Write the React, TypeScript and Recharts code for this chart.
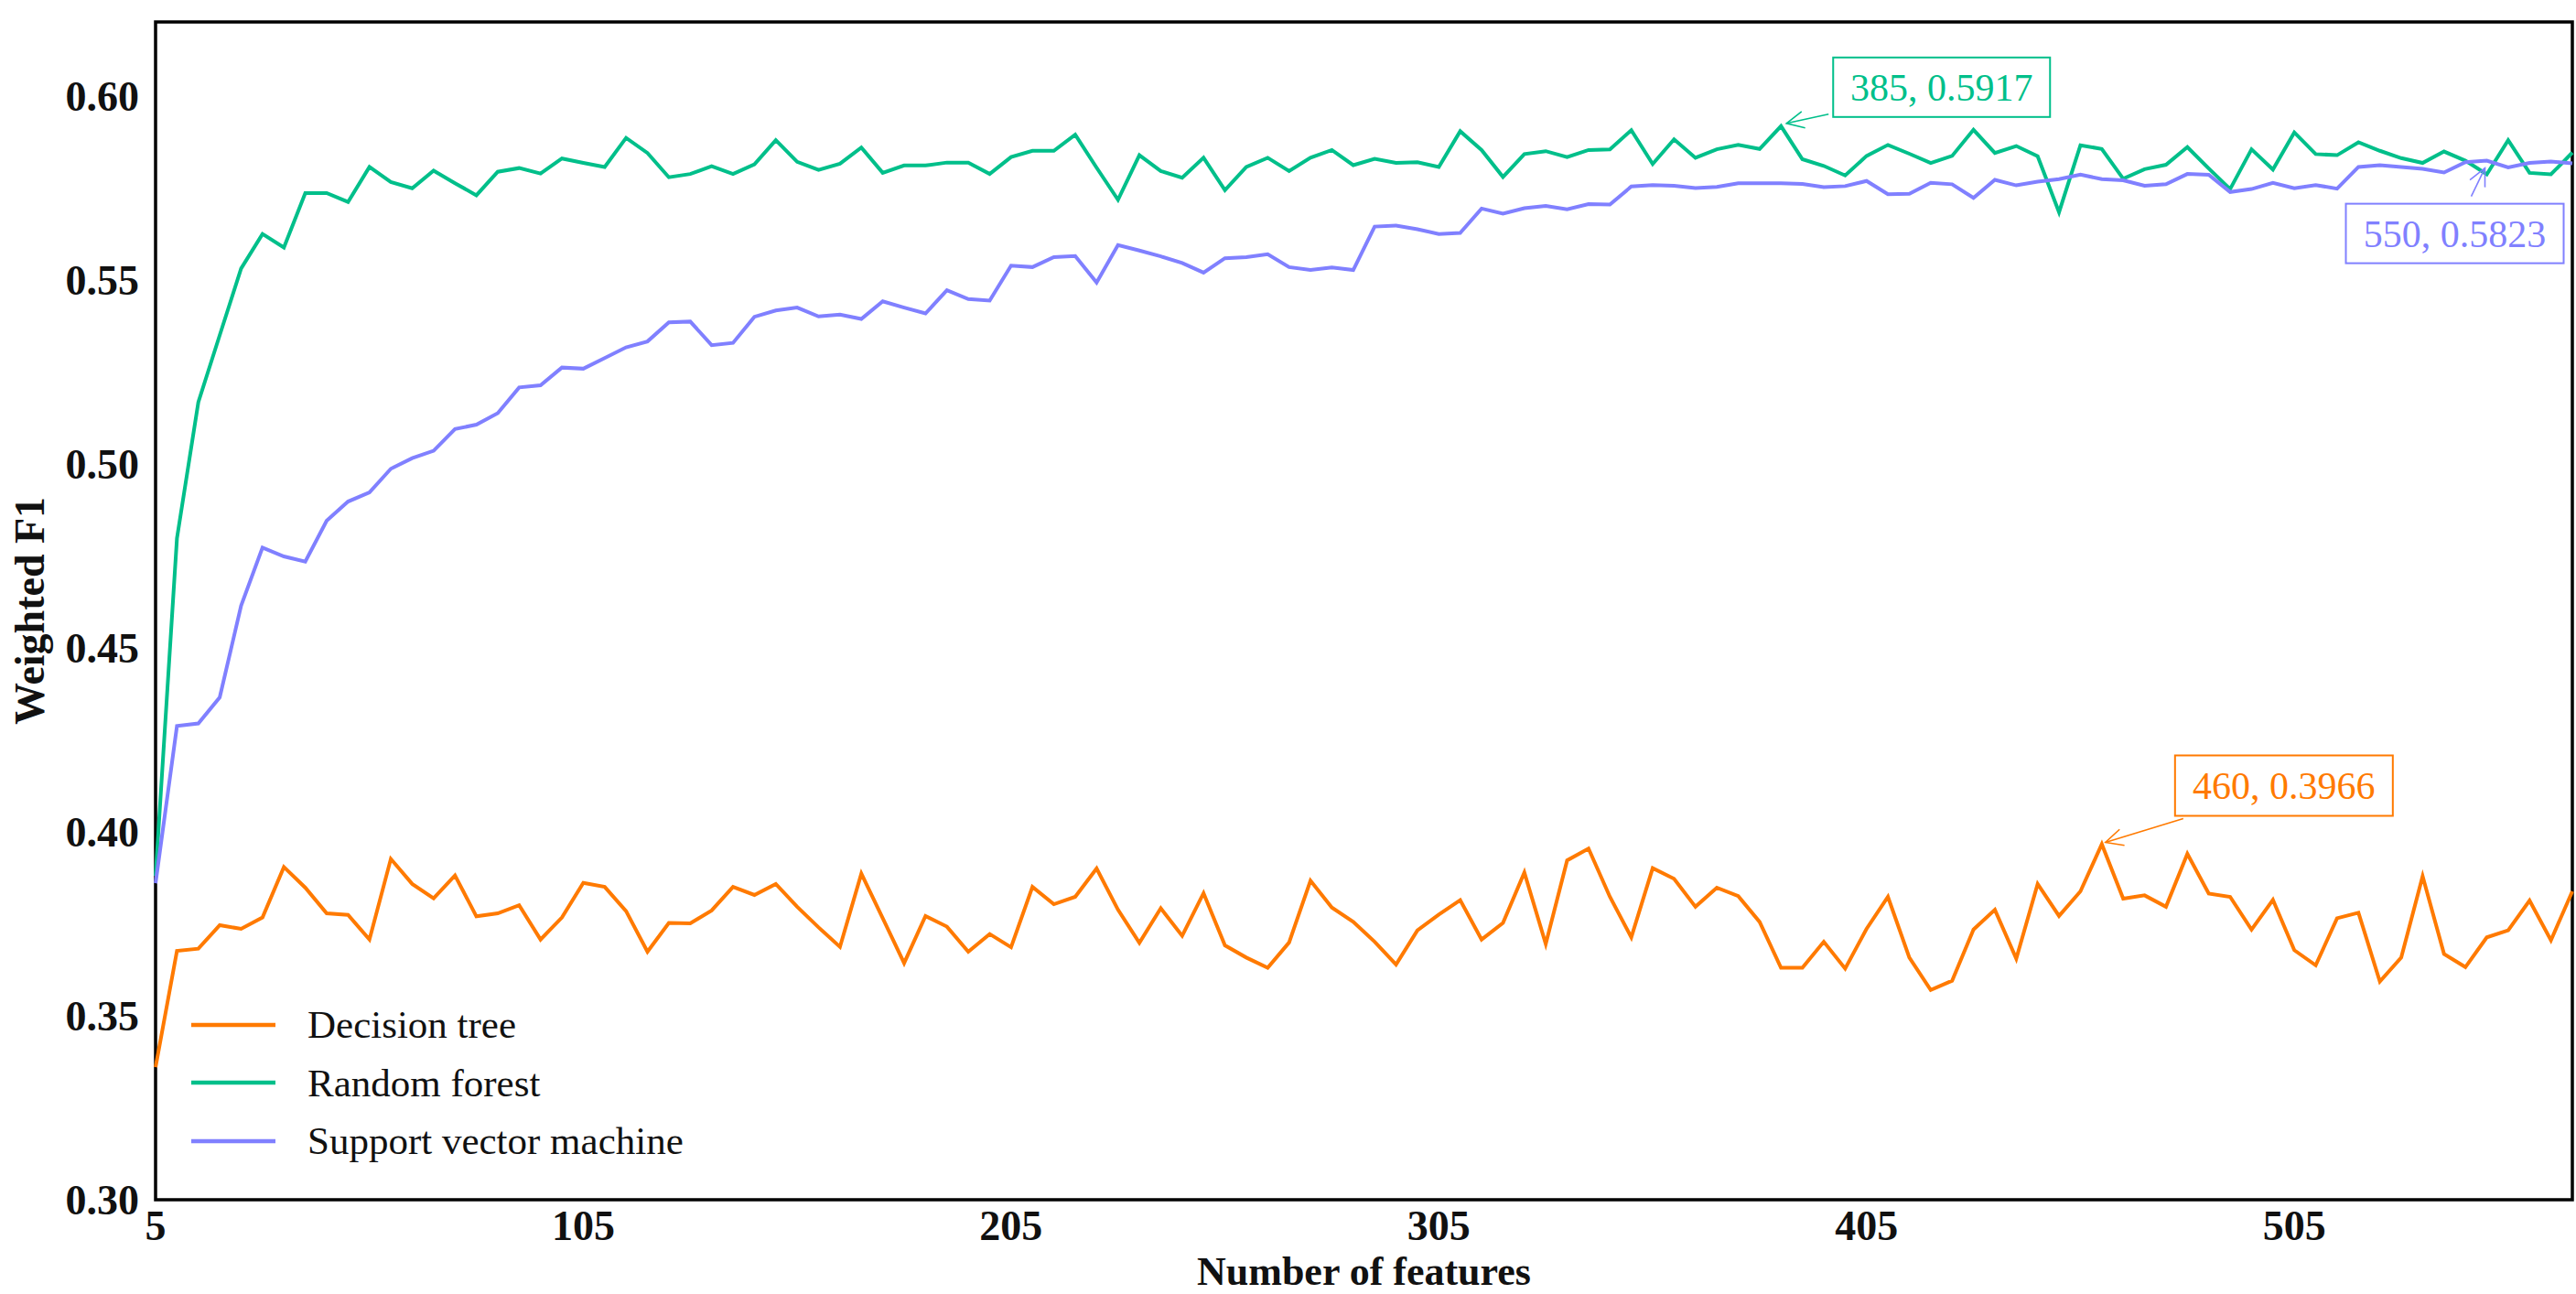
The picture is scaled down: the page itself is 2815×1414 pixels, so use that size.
import { LineChart, Line, XAxis, YAxis, Legend, ReferenceArea, ReferenceDot, Label } from "recharts"

const features = [
  5, 10, 15, 20, 25, 30, 35, 40, 45, 50,
  55, 60, 65, 70, 75, 80, 85, 90, 95, 100,
  105, 110, 115, 120, 125, 130, 135, 140, 145, 150,
  155, 160, 165, 170, 175, 180, 185, 190, 195, 200,
  205, 210, 215, 220, 225, 230, 235, 240, 245, 250,
  255, 260, 265, 270, 275, 280, 285, 290, 295, 300,
  305, 310, 315, 320, 325, 330, 335, 340, 345, 350,
  355, 360, 365, 370, 375, 380, 385, 390, 395, 400,
  405, 410, 415, 420, 425, 430, 435, 440, 445, 450,
  455, 460, 465, 470, 475, 480, 485, 490, 495, 500,
  505, 510, 515, 520, 525, 530, 535, 540, 545, 550,
  555, 560, 565, 570,
]

const decisionTree = [
  0.336, 0.3676, 0.3682, 0.3746, 0.3736, 0.3767, 0.3904, 0.3848, 0.3778, 0.3774,
  0.3707, 0.3926, 0.3858, 0.3819, 0.3881, 0.377, 0.3778, 0.38, 0.3707, 0.3767,
  0.3861, 0.385, 0.3784, 0.3674, 0.3752, 0.3751, 0.3786, 0.385, 0.3828, 0.3858,
  0.3796, 0.374, 0.3687, 0.3886, 0.3765, 0.3643, 0.3771, 0.3742, 0.3674, 0.3722,
  0.3686, 0.385, 0.3803, 0.3823, 0.39, 0.3788, 0.3698, 0.3792, 0.3717, 0.3833,
  0.3691, 0.3658, 0.363, 0.3699, 0.3867, 0.3794, 0.3755, 0.3701, 0.3639, 0.3732,
  0.3775, 0.3814, 0.3707, 0.3752, 0.3889, 0.3695, 0.3922, 0.3954, 0.3823, 0.3713,
  0.3901, 0.3872, 0.3796, 0.3848, 0.3825, 0.3755, 0.363, 0.363, 0.3701, 0.3628,
  0.3736, 0.3823, 0.3658, 0.357, 0.3595, 0.3734, 0.3788, 0.3655, 0.3858, 0.3771,
  0.3838, 0.3966, 0.3818, 0.3827, 0.3796, 0.394, 0.3832, 0.3823, 0.3734, 0.3815,
  0.3678, 0.3637, 0.3765, 0.378, 0.3593, 0.3658, 0.3879, 0.3668, 0.3632, 0.3713,
  0.3732, 0.3813, 0.3705, 0.3838,
]

const randomForest = [
  0.388, 0.4797, 0.5167, 0.5349, 0.553, 0.5624, 0.5587, 0.5735, 0.5735, 0.5711,
  0.5806, 0.5765, 0.5748, 0.5796, 0.5762, 0.5729, 0.5793, 0.5803, 0.5788, 0.5829,
  0.5817, 0.5806, 0.5885, 0.5844, 0.5778, 0.5787, 0.5808, 0.5787, 0.5813, 0.5879,
  0.582, 0.5798, 0.5815, 0.5859, 0.579, 0.581, 0.581, 0.5818, 0.5818, 0.5787,
  0.5833, 0.585, 0.585, 0.5894, 0.5804, 0.5717, 0.5838, 0.5795, 0.5777, 0.5831,
  0.5743, 0.5806, 0.5831, 0.5795, 0.5831, 0.5852, 0.5811, 0.5828, 0.5817, 0.5819,
  0.5806, 0.5903, 0.5852, 0.5779, 0.5841, 0.5849, 0.5833, 0.5852, 0.5854, 0.5906,
  0.5814, 0.5881, 0.5831, 0.5854, 0.5866, 0.5855, 0.5917, 0.5827, 0.5809, 0.5783,
  0.5836, 0.5866, 0.5842, 0.5817, 0.5836, 0.5907, 0.5844, 0.5863, 0.5835, 0.5683,
  0.5865, 0.5855, 0.5774, 0.58, 0.5812, 0.586, 0.5802, 0.5746, 0.5854, 0.5799,
  0.59, 0.5841, 0.5838, 0.5873, 0.585, 0.583, 0.5817, 0.5848, 0.5823, 0.5786,
  0.5879, 0.579, 0.5786, 0.5845,
]

const supportVector = [
  0.386, 0.4287, 0.4294, 0.4365, 0.4614, 0.4772, 0.4748, 0.4734, 0.4845, 0.4897,
  0.4922, 0.4986, 0.5015, 0.5035, 0.5094, 0.5106, 0.5137, 0.5207, 0.5213, 0.5261,
  0.5258, 0.5287, 0.5316, 0.5332, 0.5384, 0.5386, 0.5322, 0.5328, 0.5399, 0.5416,
  0.5424, 0.54, 0.5405, 0.5393, 0.5441, 0.5424, 0.5408, 0.5471, 0.5447, 0.5443,
  0.5538, 0.5534, 0.5561, 0.5564, 0.5492, 0.5594, 0.5579, 0.5563, 0.5545, 0.5519,
  0.5558, 0.5561, 0.5569, 0.5534, 0.5526, 0.5533, 0.5526, 0.5644, 0.5647, 0.5637,
  0.5624, 0.5627, 0.5693, 0.5679, 0.5694, 0.57, 0.5691, 0.5705, 0.5704, 0.5753,
  0.5757, 0.5755, 0.5749, 0.5752, 0.5762, 0.5762, 0.5762, 0.576, 0.5751, 0.5754,
  0.5768, 0.5732, 0.5733, 0.5763, 0.5759, 0.5722, 0.5771, 0.5756, 0.5766, 0.5773,
  0.5785, 0.5773, 0.577, 0.5755, 0.5759, 0.5787, 0.5785, 0.5738, 0.5746, 0.5763,
  0.5748, 0.5757, 0.5747, 0.5806, 0.5811, 0.5806, 0.5801, 0.5791, 0.5819, 0.5823,
  0.5805, 0.5817, 0.5821, 0.5816,
]

const xTicks = [5, 105, 205, 305, 405, 505]
const yTicks = [0.3, 0.35, 0.4, 0.45, 0.5, 0.55, 0.6]

const seriesKeys = ["dt", "rf", "svm"]
const seriesNames = ["Decision tree", "Random forest", "Support vector machine"]
const seriesColors = ["#ff7a00", "#00bf8a", "#8080ff"]

// best point of each model (same order as the series)
const bestFeatures = [460, 385, 550]
const bestScores = [0.3966, 0.5917, 0.5823]

// callout placement relative to the point: box [dx, dy, w, h], arrow tail, arrow tip
const calloutLayout = [
  { box: [80, -97, 238, 66], tail: [89, -28], tip: [4, -2] },
  { box: [57, -75, 237, 65], tail: [52, -13], tip: [6, -3] },
  { box: [-154, 47, 238, 65], tail: [-17, 39], tip: [-2, 8] },
]

const data = features.map((f, i) => ({
  f,
  dt: decisionTree[i],
  rf: randomForest[i],
  svm: supportVector[i],
}))

const serif = '"Liberation Serif", "Times New Roman", serif'
const tickStyle = { fontFamily: serif, fontSize: 46, fontWeight: "bold", fill: "#111" }

function Callout({ cx, cy, text, color, layout }) {
  const [bdx, bdy, w, h] = layout.box
  const bx = cx + bdx
  const by = cy + bdy
  const x1 = cx + layout.tail[0]
  const y1 = cy + layout.tail[1]
  const x2 = cx + layout.tip[0]
  const y2 = cy + layout.tip[1]
  const ang = Math.atan2(y1 - y2, x1 - x2)
  const len = 21
  const spread = 0.45
  const head = [
    [x2 + len * Math.cos(ang + spread), y2 + len * Math.sin(ang + spread)],
    [x2, y2],
    [x2 + len * Math.cos(ang - spread), y2 + len * Math.sin(ang - spread)],
  ]
  return (
    <g>
      <line x1={x1} y1={y1} x2={x2} y2={y2} stroke={color} strokeWidth={1.6} />
      <polyline points={head.map((p) => p.join(",")).join(" ")} fill="none" stroke={color} strokeWidth={1.6} />
      <rect x={bx} y={by} width={w} height={h} fill="#fff" stroke={color} strokeWidth={2} />
      <text
        x={bx + w / 2}
        y={by + h / 2}
        dy="0.35em"
        textAnchor="middle"
        fontFamily={serif}
        fontSize={42}
        fill={color}
      >
        {text}
      </text>
    </g>
  )
}

function LegendBox({ payload }) {
  return (
    <div style={{ fontFamily: serif, fontSize: 43, color: "#111" }}>
      {(payload || []).map((item) => (
        <div key={item.value} style={{ display: "flex", alignItems: "center", height: 63.5 }}>
          <svg width={92} height={8} style={{ display: "block" }}>
            <line x1={0} y1={4} x2={92} y2={4} stroke={item.color} strokeWidth={4.5} />
          </svg>
          <span style={{ marginLeft: 35, lineHeight: 1, whiteSpace: "nowrap" }}>{item.value}</span>
        </div>
      ))}
    </div>
  )
}

export default function App() {
  return (
    <div style={{ position: "absolute", left: 0, top: 0, width: 2815, height: 1414, background: "#fff" }}>
      <LineChart width={2815} height={1414} data={data} margin={{ top: 24, right: 4, bottom: 0, left: 0 }}>
        <XAxis
          dataKey="f"
          type="number"
          domain={[5, 570]}
          ticks={xTicks}
          height={103}
          tickLine={false}
          axisLine={false}
          tickMargin={5}
          tick={tickStyle}
        >
          <Label
            value="Number of features"
            position="insideBottom"
            offset={10}
            fontFamily={serif}
            fontSize={44}
            fontWeight="bold"
            fill="#111"
          />
        </XAxis>
        <YAxis
          type="number"
          domain={[0.3, 0.62]}
          ticks={yTicks}
          width={170}
          tickLine={false}
          axisLine={false}
          tickMargin={12}
          tick={tickStyle}
          tickFormatter={(v) => v.toFixed(2)}
        >
          <Label
            value="Weighted F1"
            angle={-90}
            position="center"
            dx={-53}
            fontFamily={serif}
            fontSize={46}
            fontWeight="bold"
            fill="#111"
          />
        </YAxis>
        <ReferenceArea
          x1={5}
          x2={570}
          y1={0.3}
          y2={0.62}
          fill="none"
          stroke="#000"
          strokeWidth={3.5}
          ifOverflow="visible"
        />
        {seriesKeys.map((key, i) => (
          <Line
            key={key}
            type="linear"
            dataKey={key}
            name={seriesNames[i]}
            stroke={seriesColors[i]}
            strokeWidth={4}
            dot={false}
            activeDot={false}
            isAnimationActive={false}
          />
        ))}
        {bestFeatures.map((f, i) => (
          <ReferenceDot
            key={f}
            x={f}
            y={bestScores[i]}
            r={0}
            ifOverflow="visible"
            shape={(p) => (
              <Callout
                cx={p.cx}
                cy={p.cy}
                text={`${f}, ${bestScores[i].toFixed(4)}`}
                color={seriesColors[i]}
                layout={calloutLayout[i]}
              />
            )}
          />
        ))}
        <Legend
          layout="vertical"
          align="center"
          verticalAlign="middle"
          wrapperStyle={{ left: 209, top: 1088, width: 900 }}
          content={LegendBox}
        />
      </LineChart>
    </div>
  )
}
